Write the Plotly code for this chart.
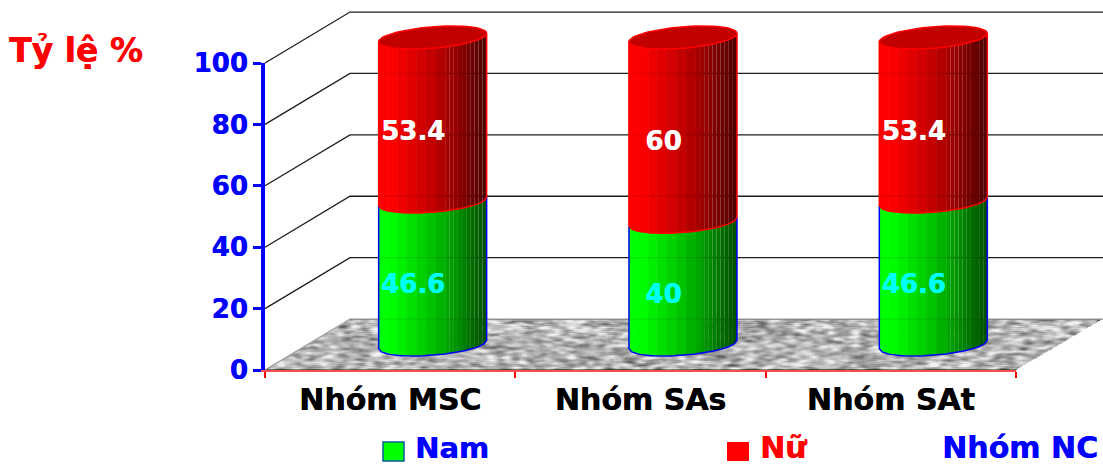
import base64
import struct
import zlib

import numpy as np
import plotly.graph_objects as go

# Chart data
categories = ["Nhóm MSC", "Nhóm SAs", "Nhóm SAt"]
nam_values = [46.6, 40, 46.6]
nu_values = [53.4, 60, 53.4]
y_ticks = [0, 20, 40, 60, 80, 100]
series_names = ["Nam", "Nữ"]
axis_title = "Tỷ lệ %"
group_title = "Nhóm NC"

# Page and plot box, in pixels
PAGE_W, PAGE_H = 1103, 466
PLOT_L, PLOT_R, PLOT_T, PLOT_B = 265, 1016, 63, 370

# Oblique projection of the 3D box: one unit of depth shifts a point by
# DEPTH_X categories and DEPTH_Y percentage points.
DEPTH_X = 0.3395
DEPTH_Y = 16.6
BAR_DEPTH = 0.5
LABEL_DEPTH = 0.27
LABEL_DROP = 0.6
RADIUS_X = 0.2157
RADIUS_Y = 3.5
TILT = 1.37
WALL_END = 3.36

FONT = "DejaVu Sans"
BLUE = "#0000ff"
RED = "#ff0000"
GREEN = "#00ff00"
GRID = "#1c1c1c"

# Band edges around the cylinder (0 = left side, 1 = right side) and the
# brightness profile that shades it. Wide bands blend together; the narrow
# ones on the shaded side keep their thin seams.
SEAM_START = 0.62
band_edges = np.concatenate([np.linspace(0, SEAM_START, 8), np.linspace(SEAM_START, 1, 11)[1:]])
shade_u = [0.0, 0.12, 0.5, 0.7, 0.85, 1.0]
shade_v = [1.0, 1.0, 0.76, 0.6, 0.44, 0.3]


def project(cat, value, depth):
    return cat + depth * DEPTH_X, value + depth * DEPTH_Y


def front_arc(u):
    c = 2 * np.asarray(u) - 1
    dx = RADIUS_X * c
    dy = TILT * c - RADIUS_Y * np.sqrt(np.clip(1 - c * c, 0, 1))
    return dx, dy


def png_data_uri(rgba):
    height, width = rgba.shape[:2]
    raw = b"".join(b"\x00" + rgba[r].tobytes() for r in range(height))

    def chunk(tag, body):
        crc = zlib.crc32(tag + body) & 0xFFFFFFFF
        return struct.pack(">I", len(body)) + tag + body + struct.pack(">I", crc)

    data = (
        b"\x89PNG\r\n\x1a\n"
        + chunk(b"IHDR", struct.pack(">IIBBBBB", width, height, 8, 6, 0, 0, 0))
        + chunk(b"IDAT", zlib.compress(raw, 9))
        + chunk(b"IEND", b"")
    )
    return "data:image/png;base64," + base64.b64encode(data).decode()


def floor_texture(width=836, height=52):
    # Mottled grey stone, from a fixed hash, skewed to the floor's parallelogram.
    yy, xx = np.mgrid[0:height, 0:width]
    hash_grid = np.sin(xx * 12.9898 + yy * 78.233) * 43758.5453
    grain = hash_grid - np.floor(hash_grid)
    for axis, size in ((1, 9), (0, 3), (1, 5)):
        kernel = np.ones(size) / size
        grain = np.apply_along_axis(lambda a: np.convolve(a, kernel, mode="same"), axis, grain)
    grain = (grain - grain.mean()) / grain.std()
    grey = np.clip(178 + 34 * grain, 60, 240).astype(np.uint8)
    inset = (height - 1 - yy) * (85 / 51)
    alpha = ((xx >= inset) & (xx <= inset + 751)).astype(np.uint8) * 255
    return np.dstack([grey, grey, grey, alpha]).astype(np.uint8)


fig = go.Figure()


def add_line(xs, ys, color, width, opacity=1.0):
    fig.add_trace(go.Scatter(
        x=xs, y=ys, mode="lines", line=dict(color=color, width=width),
        opacity=opacity, hoverinfo="skip", showlegend=False,
    ))


# Back wall and side wall gridlines
for tick in y_ticks:
    x_back, y_back = project(0, tick, 1)
    color = "#9a9a9a" if tick == 0 else GRID
    add_line([0, x_back, WALL_END], [tick, y_back, y_back], color, 1.3)


def add_cylinder_segment(index, low, high, rgb, outline):
    cx, cy_low = project(index + 0.5, low, BAR_DEPTH)
    _, cy_high = project(index + 0.5, high, BAR_DEPTH)
    # Shaded vertical bands
    for start, end in zip(band_edges[:-1], band_edges[1:]):
        u = np.linspace(start, end, 4)
        dx, dy = front_arc(u)
        xs = np.concatenate([cx + dx, (cx + dx)[::-1], [cx + dx[0]]])
        ys = np.concatenate([cy_low + dy, (cy_high + dy)[::-1], [cy_low + dy[0]]])
        level = float(np.interp((start + end) / 2, shade_u, shade_v))
        fill = "rgb({},{},{})".format(*[int(channel * level) for channel in rgb])
        seam_width = 0.7 if end <= SEAM_START else 0
        fig.add_trace(go.Scatter(
            x=xs, y=ys, mode="lines", fill="toself", fillcolor=fill,
            line=dict(color=fill, width=seam_width), hoverinfo="skip", showlegend=False,
        ))
    # Side edges and front rim
    u = np.linspace(0, 1, 40)
    dx, dy = front_arc(u)
    add_line(
        np.concatenate([[cx + dx[0]], cx + dx, [cx + dx[-1]]]),
        np.concatenate([[cy_high + dy[0]], cy_low + dy, [cy_high + dy[-1]]]),
        outline, 1.5,
    )


def add_cylinder_top(index, value):
    cx, cy = project(index + 0.5, value, BAR_DEPTH)
    theta = np.linspace(0, 2 * np.pi, 72)
    c = np.cos(theta)
    xs = cx + RADIUS_X * c
    ys = cy + TILT * c + RADIUS_Y * np.sin(theta)
    fig.add_trace(go.Scatter(
        x=xs, y=ys, mode="lines", fill="toself", fillcolor="#c20000",
        line=dict(color=RED, width=1.5), hoverinfo="skip", showlegend=False,
    ))


for i in range(len(categories)):
    nam = nam_values[i]
    total = nam + nu_values[i]
    add_cylinder_segment(i, 0, nam, (0, 255, 0), BLUE)
    add_cylinder_segment(i, nam, total, (255, 0, 0), RED)
    add_cylinder_top(i, total)
    # Back wall lines show very faintly through the cylinder
    cx, _ = project(i + 0.5, 0, BAR_DEPTH)
    for tick in y_ticks[:-1]:
        _, y_back = project(0, tick, 1)
        add_line([cx - RADIUS_X, cx + RADIUS_X], [y_back, y_back], "#000000", 1, opacity=0.1)


# Value labels, centred on each segment
def add_value_labels(values, bases, color):
    xs, ys = [], []
    for i, (value, base) in enumerate(zip(values, bases)):
        x, y = project(i + 0.5, base + value / 2, LABEL_DEPTH)
        xs.append(x)
        ys.append(y - LABEL_DROP)
    fig.add_trace(go.Scatter(
        x=xs, y=ys, mode="text", text=[str(v) for v in values],
        textposition="middle center",
        textfont=dict(family=FONT, size=26, color=color, weight="bold",
                      shadow=f"0.5px 0 0 {color}"),
        hoverinfo="skip", showlegend=False,
    ))


add_value_labels(nam_values, [0, 0, 0], "#00ffff")
add_value_labels(nu_values, nam_values, "#ffffff")

# The visible axes live on a second subplot that fills the plot box; the
# drawing axes span the whole page so marks can extend past that box.
fig.add_trace(go.Scatter(
    x=[], y=[], xaxis="x2", yaxis="y2", hoverinfo="skip", showlegend=False,
))


def fx(px):
    return px / PAGE_W


def fy(py):
    return 1 - py / PAGE_H


swatches = [
    dict(type="rect", xref="paper", yref="paper", x0=fx(383), x1=fx(404), y0=fy(461), y1=fy(442),
         fillcolor=GREEN, line=dict(color="#005f9f", width=1.5)),
    dict(type="rect", xref="paper", yref="paper", x0=fx(727), x1=fx(749), y0=fy(461), y1=fy(442),
         fillcolor=RED, line=dict(color=RED, width=0)),
]


def caption(text, px, py, color, size):
    return dict(
        text=text, xref="paper", yref="paper", x=fx(px), y=fy(py),
        xanchor="left", yanchor="middle", showarrow=False,
        font=dict(family=FONT, size=size, color=color, weight="bold",
                  shadow=f"0.5px 0 0 {color}"),
    )


annotations = [
    caption(axis_title, 7, 51, RED, 33),
    caption(series_names[0], 413, 448, BLUE, 29),
    caption(series_names[1], 758, 447, RED, 30),
    caption(group_title, 940, 447, BLUE, 30),
]

px_per_cat = (PLOT_R - PLOT_L) / 3
px_per_pct = (PLOT_B - PLOT_T) / 100

fig.update_layout(
    width=PAGE_W,
    height=PAGE_H,
    margin=dict(l=0, r=0, t=0, b=0, pad=0, autoexpand=False),
    paper_bgcolor="white",
    plot_bgcolor="rgba(0,0,0,0)",
    showlegend=False,
    shapes=swatches,
    annotations=annotations,
    images=[dict(
        source=png_data_uri(floor_texture()),
        xref="x", yref="y", x=0, y=DEPTH_Y,
        sizex=3 + DEPTH_X, sizey=DEPTH_Y,
        xanchor="left", yanchor="top", sizing="stretch", layer="below",
    )],
    xaxis=dict(
        range=[-PLOT_L / px_per_cat, (PAGE_W - PLOT_L) / px_per_cat],
        domain=[0, 1],
        visible=False,
    ),
    yaxis=dict(
        range=[-(PAGE_H - PLOT_B) / px_per_pct, PLOT_B / px_per_pct],
        domain=[0, 1],
        visible=False,
    ),
    xaxis2=dict(
        anchor="y2",
        domain=[PLOT_L / PAGE_W, PLOT_R / PAGE_W],
        range=[0, 3],
        showgrid=False,
        zeroline=False,
        showline=True,
        linecolor="#ff4d4d",
        linewidth=2,
        tickmode="array",
        tickvals=[0.5, 1.5, 2.5],
        ticktext=categories,
        ticks="",
        ticklabelstandoff=2,
        tickfont=dict(family=FONT, size=30, color="#000000", weight="bold",
                      shadow="0.5px 0 0 #000000"),
        minor=dict(tickmode="array", tickvals=[0, 1, 2, 3], ticks="outside",
                   ticklen=6, tickwidth=1.5, tickcolor=RED),
    ),
    yaxis2=dict(
        anchor="x2",
        domain=[1 - PLOT_B / PAGE_H, 1 - PLOT_T / PAGE_H],
        range=[0, 100],
        showgrid=False,
        zeroline=False,
        showline=True,
        linecolor=BLUE,
        linewidth=4,
        tickmode="array",
        tickvals=y_ticks,
        ticks="outside",
        ticklen=8,
        tickwidth=3,
        tickcolor=BLUE,
        tickfont=dict(family=FONT, size=26, color=BLUE, weight="bold",
                      shadow=f"0.5px 0 0 {BLUE}"),
    ),
)

fig.write_html("out.html", config=dict(displayModeBar=False))
